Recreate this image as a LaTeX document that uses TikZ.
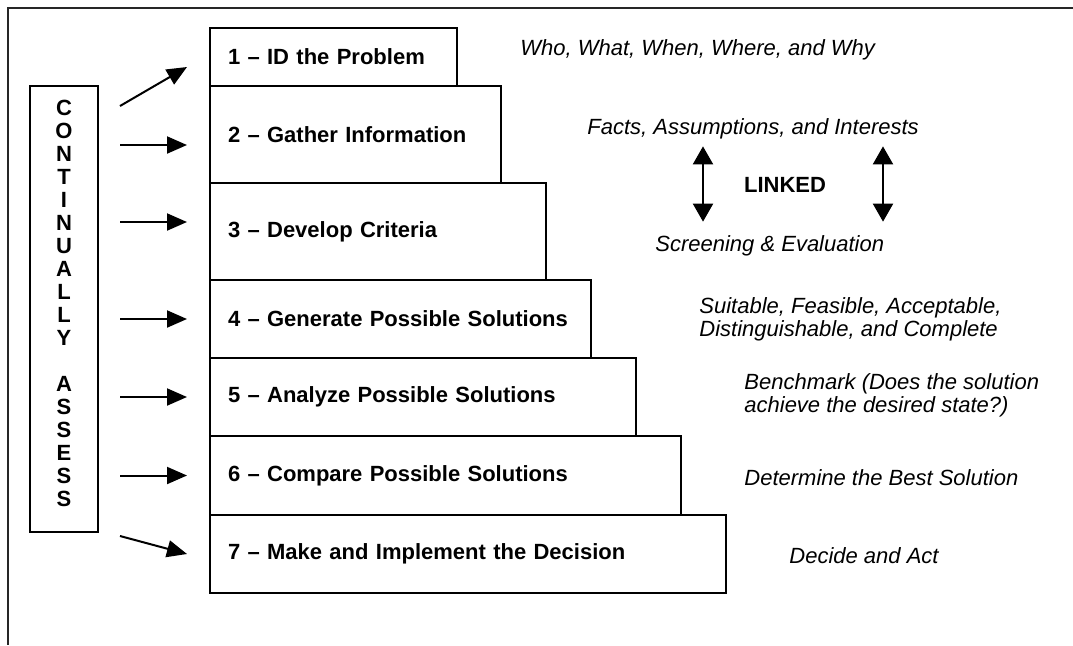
\documentclass[tikz,border=0pt]{standalone}
\usepackage{fontspec}
\setmainfont{Liberation Sans}
\usetikzlibrary{arrows.meta,positioning}

\begin{document}
\begin{tikzpicture}[
    x=0.5pt, y=-0.5pt,
    font=\fontsize{11}{11.5}\selectfont,
    stepbox/.style={draw, line width=1.2pt, outer sep=0pt, inner xsep=9pt, align=left, font=\fontsize{11}{11.5}\selectfont\bfseries},
    note/.style={inner sep=0pt, align=left, font=\fontsize{11}{11.5}\selectfont\itshape},
    arrow/.style={-{Triangle[length=10pt,width=8.5pt]}, line width=1pt},
    link/.style={{Triangle[length=9pt,width=10pt]}-{Triangle[length=9pt,width=10pt]}, line width=1pt}
]
    \useasboundingbox (0,0) rectangle (1073,645);

    % Frame
    \draw[line width=1.4pt, black!85] (1073,8) -- (8,8) -- (8,645);

    % Steps
    \node[stepbox, anchor=north west, text width=105.5pt, minimum height=29pt] (s1) at (210,28) {1 -- ID the Problem};
    \node[stepbox, below=0pt of s1.south west, anchor=north west, text width=127.5pt, minimum height=48.5pt] (s2) {2 -- Gather Information};
    \node[stepbox, below=0pt of s2.south west, anchor=north west, text width=150pt, minimum height=48.5pt] (s3) {3 -- Develop Criteria};
    \node[stepbox, below=0pt of s3.south west, anchor=north west, text width=172.5pt, minimum height=39pt] (s4) {4 -- Generate Possible Solutions};
    \node[stepbox, below=0pt of s4.south west, anchor=north west, text width=195pt, minimum height=39pt] (s5) {5 -- Analyze Possible Solutions};
    \node[stepbox, below=0pt of s5.south west, anchor=north west, text width=217.5pt, minimum height=39.5pt] (s6) {6 -- Compare Possible Solutions};
    \node[stepbox, below=0pt of s6.south west, anchor=north west, text width=240pt, minimum height=39pt] (s7) {7 -- Make and Implement the Decision};

    % Continually assess
    \node[draw, line width=1.2pt, outer sep=0pt, anchor=north west, minimum width=34pt, minimum height=223pt,
          align=center, text depth=6pt, font=\fontsize{11}{11.5}\selectfont\bfseries] (ca) at (30,86)
          {C\\O\\N\\T\\I\\N\\U\\A\\L\\L\\Y\\[11.5pt]A\\S\\S\\E\\S\\S};

    % Arrows into the steps
    \coordinate (t1) at ([shift={(11pt,-10pt)}]ca.north east);
    \coordinate (e1) at ([xshift=-11.5pt,yshift=-5pt]s1.west);
    \coordinate (e2) at ([yshift=-5.25pt]s2.west);
    \coordinate (e3) at ([yshift=4.75pt]s3.west);
    \coordinate (t7) at ([shift={(11pt,-2pt)}]ca.south east);
    \coordinate (e7) at ([xshift=-11.5pt]s7.west);
    \draw[arrow] (t1) -- (e1);
    \draw[arrow, shorten <=11pt, shorten >=11.5pt] (ca.east |- e2) -- (e2);
    \draw[arrow, shorten <=11pt, shorten >=11.5pt] (ca.east |- e3) -- (e3);
    \draw[arrow, shorten <=11pt, shorten >=11.5pt] (ca.east |- s4.west) -- (s4.west);
    \draw[arrow, shorten <=11pt, shorten >=11.5pt] (ca.east |- s5.west) -- (s5.west);
    \draw[arrow, shorten <=11pt, shorten >=11.5pt] (ca.east |- s6.west) -- (s6.west);
    \draw[arrow] (t7) -- (e7);

    % Notes on the right
    \node[note, anchor=base west] (who) at (520,55) {Who, What, When, Where, and Why};
    \node[note, anchor=base west] (facts) at (587,134) {Facts, Assumptions, and Interests};
    \node[font=\fontsize{11}{11.5}\selectfont\bfseries, inner sep=0pt, anchor=base] (linked) at (785,192) {LINKED};
    \node[note, anchor=base west] (screen) at (655,251) {Screening \& Evaluation};
    \node[note, anchor=west] (suit) at (699,319) {Suitable, Feasible, Acceptable,\\Distinguishable, and Complete};
    \node[note, anchor=west] (bench) at (744,395) {Benchmark (Does the solution\\achieve the desired state?)};
    \node[note, anchor=base west] (best) at (744,485) {Determine the Best Solution};
    \node[note, anchor=base west] (act) at (789,563) {Decide and Act};

    % Linked arrows
    \coordinate (lx) at ([xshift=-41pt]linked.center);
    \coordinate (rx) at ([xshift=49pt]linked.center);
    \draw[link, shorten <=3.7pt, shorten >=6.5pt] (lx |- facts.south) -- (lx |- screen.north);
    \draw[link, shorten <=3.7pt, shorten >=6.5pt] (rx |- facts.south) -- (rx |- screen.north);

\end{tikzpicture}
\end{document}
